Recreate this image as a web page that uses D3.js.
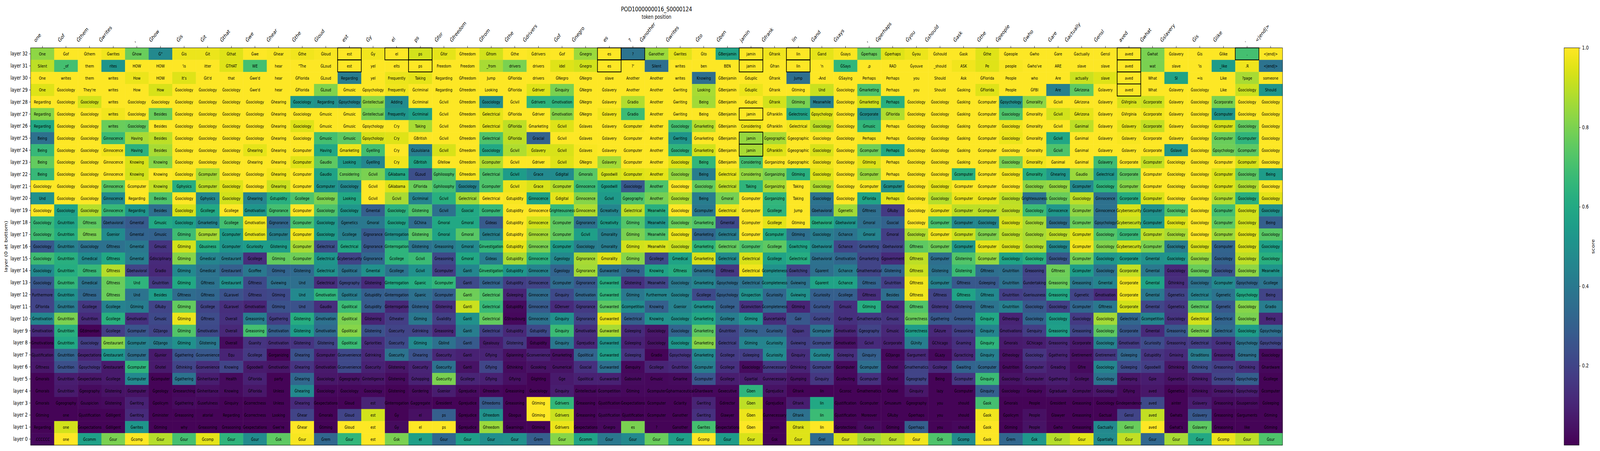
<!DOCTYPE html>
<html>
<head>
<meta charset="utf-8">
<script src="https://cdn.jsdelivr.net/npm/d3@7"></script>
<style>
html,body{margin:0;padding:0;background:#fff;overflow:hidden;}
svg{display:block;width:100vw;height:100vh;}
text{font-family:"DejaVu Sans",sans-serif;fill:#000;}
</style>
</head>
<body>
<svg id="chart" viewBox="0 0 5300 1155" preserveAspectRatio="none"></svg>
<script>
const chartTitle = "POD1000000016_S0000124";
const xAxisLabel = "token position";
const yAxisLabel = "layer (0 at bottom)";
const colorbarLabel = "score";
const colorbarTicks = [0.2, 0.4, 0.6, 0.8, 1.0];
const xTickLabels = ["one","Ġof","Ġthem","Ġwrites",",","Ġhow","Ġis","Ġit","Ġthat","Ġwe","Ġhear","Ġthe","Ġloud","est","Ġy","el","ps","Ġfor","Ġfreedom","Ġfrom","Ġthe","Ġdrivers","Ġof","Ġnegro","es","?","Ġanother","Ġwrites","Ġto","Ġben","jamin","Ġfrank","lin","Ġand","Ġsays",",","Ġperhaps","Ġyou","Ġshould","Ġask","Ġthe","Ġpeople","Ġwho","Ġare","Ġactually","Ġensl","aved","Ġwhat","Ġslavery","Ġis","Ġlike",".","<|end|>"];
const layers = [32,31,30,29,28,27,26,25,24,23,22,21,20,19,18,17,16,15,14,13,12,11,10,9,8,7,6,5,4,3,2,1,0];
// cells outlined in black: [layer, column]
const boxedCells = [[32,13],[31,13],[32,15],[32,16],[31,16],[32,24],[31,24],[32,25],[32,30],[31,30],[27,30],[25,30],[24,30],[32,32],[31,32],[32,46],[31,46],[30,46],[29,46],[32,51]];

const tokens32 = ["One","Ġof","Ġthem","Ġwrites","Ġhow","Ġ\"","Ġis","Ġit","Ġthat","Ġwe","Ġhear","Ġthe","Ġloud","est","Ġy","el","ps","Ġfor","Ġfreedom","Ġfrom","Ġthe","Ġdrivers","Ġof","Ġnegro","es","?","Ġanother","Ġwrites","Ġto","ĠBenjamin","jamin","Ġfrank","lin","Ġand","Ġsays","Ġperhaps","Ġperhaps","Ġyou","Ġshould","Ġask","Ġthe","Ġpeople","Ġwho","Ġare","Ġactually","Ġensl","aved","Ġwhat","Ġslavery","Ġis","Ġlike",".","<|end|>"];
const scores32 = [0.83,1,1,0.98,0.77,0.47,0.97,0.97,0.95,1,0.99,0.98,0.99,1,0.98,1,0.93,0.96,1,0.93,1,0.99,1,0.85,1,0.38,0.85,0.96,1,0.58,1,0.98,1,0.96,0.99,0.77,0.95,0.97,1,1,0.95,1,1,1,1,1,1,0.8,1,1,1,0.7,1];
const tokens31 = ["Silent","_of","them","rites","HOW","HOW","'is","itter","ĠTHAT","WE","hear","\"The","ĠLoud","est","yel","elts","ps","Freedom","Freedom","_from","drivers","drivers","idel","Ġnegro","es","?'","Silent","writes","ben","BEN","jamin","Ġfran","lin","'n","ĠSays",",p","RAD","Ġyouve","_should","ASK","Pe","people","Ġwho've","ARE","slave","slave","aved","wat","slave","'is","_like",".R","<|end|>"];
const scores31 = [0.9,0.7,1,0.52,1,1,1,1,0.95,0.7,1,1,1,1,1,1,1,1,1,0.87,0.8,1,0.95,0.93,1,1,0.36,1,1,1,1,1,1,1,0.66,1,1,1,1,0.98,0.95,0.99,1,1,1,1,1,0.8,1,1,0.55,0.98,0.38];
const tokens30 = ["One","writes","them","writes","How","HOW","It's","Ġit'd","that","Ġwe'd","hear","ĠFlorida","ĠLoud","Regarding","yel","Frequently","Taking","Regarding","ĠFreedom","Jump","ĠFlorida","drivers","ĠNegro","ĠNegro","slave","Another","Another","writes","Knowing","ĠBenjamin","Ġduplic","Ġfrank","Jump","-And","ĠSaying","Perhaps","Perhaps","you","Should","Ask","ĠFlorida","People","who","Are","actually","slave","aved","What","Sl","=is","Like","?page","someone"];
const scores30 = [1,1,1,1,0.97,1,0.95,1,1,1,1,1,1,0.42,1,0.97,0.96,1,1,1,1,1,1,1,1,1,1,1,0.36,1,1,1,0.36,1,1,1,1,1,1,1,1,1,1,1,0.92,0.95,1,1,0.58,1,1,0.87,1];
const tokens29 = ["One","Ġsociology","They're","writes","How","How","Ġsociology","Ġsociology","Ġsociology","Ġwe'd","hear","ĠFlorida","ĠLoud","Ġmusic","Ġpsychology","Frequently","Ġcriminal","Regarding","Ġfreedom","Looking","ĠFlorida","Ġdriver","Ġinquiry","ĠNegro","Ġslavery","Another","Another","Ġwriting","Looking","ĠBenjamin","Ġduplic","Ġfrank","Ġtiming","Und","Ġsociology","Ġmarketing","Perhaps","you","Should","Ġasking","ĠFlorida","People","ĠFBI","Are","ĠArizona","Ġslavery","aved","What","Ġslavery","Ġsociology","Like","Ġsociology","Should"];
const scores29 = [0.95,1,1,1,1,0.94,1,1,1,1,1,1,0.81,1,1,0.98,1,1,1,1,1,0.95,0.8,1,1,1,1,1,0.87,1,0.97,1,1,0.92,1,0.72,1,1,1,1,0.95,1,1,0.43,0.75,1,1,1,1,1,1,0.92,0.52];
const tokens28 = ["Regarding","Ġsociology","Ġsociology","writes","Ġsociology","Ġsociology","Ġsociology","Ġsociology","Ġsociology","Ġsociology","Ġhearing","Ġsociology","Regarding","Ġpsychology","Ġintellectual","Adding","Ġcriminal","Ġcivil","Ġfreedom","Ġsociology","Ġcivil","Ġdrivers","Ġmotivation","ĠNegro","Ġslavery","Ġradio","Another","Ġwriting","Being","ĠBenjamin","Ġduplic","Ġfrank","Ġtiming","Meanwhile","Ġsociology","Ġmarketing","Perhaps","Ġsociology","Ġsociology","Ġasking","Ġcomputer","Ġpsychology","Ġmorality","Ġcivil","ĠArizona","Ġslavery","ĠVirginia","Ġcorporate","Ġslavery","Ġsociology","Ġcorporate","Ġsociology","Ġsociology"];
const scores28 = [1,1,0.93,1,1,1,1,1,1,1,1,0.53,0.5,0.46,0.83,0.48,1,1,1,0.48,1,0.65,0.65,1,1,0.88,1,1,0.86,1,1,0.93,0.8,0.43,1,0.93,0.63,1,1,1,1,0.5,0.83,1,1,1,0.94,0.92,1,1,0.8,1,1];
const tokens27 = ["Regarding","Ġsociology","Ġsociology","writes","Ġsociology","Besides","Ġsociology","Ġsociology","Ġsociology","Ġsociology","Ġhearing","Ġsociology","Ġmusic","Ġmusic","Ġintellectual","Frequently","Ġcriminal","Ġcivil","Ġfreedom","Ġelectrical","ĠFlorida","Ġdriver","Ġmotivation","ĠNegro","Ġslavery","Ġradio","Another","Ġwriting","Being","ĠBenjamin","jamin","ĠFranklin","Ġelectronic","Ġpsychology","Ġsociology","Ġcorporate","ĠFlorida","Ġsociology","Ġsociology","Ġasking","Ġcomputer","Ġsociology","Ġmorality","Ġcivil","ĠArizona","Ġslavery","ĠVirginia","Ġcorporate","Ġslavery","Ġsociology","Ġcomputer","Ġsociology","Ġsociology"];
const scores27 = [0.82,1,1,0.98,1,0.77,1,1,1,1,1,1,1,1,0.79,0.52,0.57,1,1,0.96,1,1,0.82,1,0.98,0.68,1,1,1,1,1,1,0.58,0.95,1,0.5,0.88,1,1,1,1,0.72,1,0.93,0.96,1,0.99,0.98,1,1,0.52,1,1];
const tokens26 = ["Regarding","Ġsociology","Ġsociology","writes","Ġsociology","Besides","Ġsociology","Ġsociology","Ġsociology","Ġsociology","Ġhearing","Ġsociology","Ġmusic","Ġmusic","Ġpsychology","Cry","Taking","Ġcivil","Ġfreedom","Ġelectrical","ĠFlorida","Ġmarketing","Ġcivil","Ġslaves","Ġslavery","Ġcomputer","Another","Ġsociology","Ġmarketing","ĠBenjamin","Considering","ĠFranklin","Ġelectrical","Ġsociology","Ġsociology","Ġmusic","Perhaps","Ġsociology","Ġsociology","Ġasking","Ġcomputer","Ġsociology","Ġmorality","Ġcivil","Ġanimal","Ġslavery","Ġslavery","Ġcorporate","Ġslavery","Ġsociology","Ġcomputer","Ġsociology","Ġsociology"];
const scores26 = [0.6,1,1,0.77,0.76,1,1,1,1,1,1,0.95,1,1,1,1,0.87,1,1,0.96,0.9,1,0.95,1,1,0.99,1,0.7,0.89,1,0.98,1,0.98,0.9,1,0.66,1,1,1,1,1,0.98,1,1,0.9,1,0.96,0.91,1,1,0.94,0.76,1];
const tokens25 = ["Being","Ġsociology","Ġsociology","Ġinnocence","Having","Besides","Ġsociology","Ġsociology","Ġsociology","Ġsociology","Ġhearing","Ġsociology","Ġmusic","Ġmusic","Ġpsychology","Cry","ĠBritish","Ġcivil","Ġfreedom","Ġelectrical","ĠFlorida","Ġracial","Ġcivil","Ġslaves","Ġslavery","Ġcomputer","Another","Ġwriting","Ġmarketing","ĠBenjamin","jamin","Ġgeographic","Ġgeographic","Ġsociology","Ġsociology","Perhaps","Perhaps","Ġsociology","Ġsociology","Ġasking","Ġcomputer","Ġsociology","Ġmorality","Ġcivil","Ġanimal","Ġslavery","Ġslavery","Ġcorporate","Ġslavery","Ġsociology","Ġcomputer","Ġcomputer","Ġsociology"];
const scores25 = [0.37,1,1,0.68,0.87,0.9,1,1,1,1,1,1,0.7,0.75,0.94,0.95,1,1,1,0.72,0.9,0.31,1,1,1,1,1,0.52,1,1,0.84,0.87,1,1,1,0.99,1,1,1,1,1,0.97,1,0.59,1,1,0.99,1,1,1,0.77,0.65,1];
const tokens24 = ["Being","Ġsociology","Ġsociology","Ġinnocence","Having","Besides","Ġsociology","Ġsociology","Ġsociology","Ġhearing","Ġhearing","Ġcomputer","Having","Ġmarketing","Ġyelling","Cry","ĠLouisiana","Ġcivil","Ġfreedom","Ġsociology","Ġcivil","Ġslavery","Ġcivil","Ġslaves","Ġslavery","Ġcomputer","Another","Ġsociology","Ġmarketing","ĠBenjamin","jamin","ĠFranklin","Ġgeographic","Ġsociology","Ġsociology","Ġcomputer","Perhaps","Ġsociology","Ġsociology","Ġasking","Ġcomputer","Ġsociology","Ġmorality","Ġcivil","Ġanimal","Ġslavery","Ġslavery","Ġcorporate","Ġslave","Ġsociology","Ġpsychology","Ġcomputer","Ġsociology"];
const scores24 = [0.67,1,1,0.98,0.64,0.87,1,1,1,0.96,1,1,0.6,0.97,0.7,1,0.42,0.94,1,0.6,0.88,0.94,0.94,0.99,1,1,1,0.65,0.93,1,0.87,0.95,1,0.94,1,0.78,0.6,1,1,1,1,1,1,0.72,1,1,1,1,0.52,1,0.78,0.75,1];
const tokens23 = ["Being","Ġsociology","Ġsociology","Ġinnocence","Knowing","Knowing","Ġsociology","Ġsociology","Ġsociology","Ġhearing","Ġhearing","Ġcomputer","Ġaudio","Looking","Ġyelling","Cry","ĠBritish","Ġfellow","Ġfreedom","Ġcomputer","Ġcivil","Ġdriver","Ġcivil","ĠNegro","Ġslavery","Ġcomputer","Another","Ġsociology","Being","ĠBenjamin","Considering","Ġorganizing","Ġgeographic","Ġsociology","Ġsociology","Ġtiming","Perhaps","Ġsociology","Ġsociology","Ġasking","Ġcomputer","Ġsociology","Ġmorality","Ġanimal","Ġanimal","Ġslavery","Ġcorporate","Ġcomputer","Ġsociology","Ġsociology","Ġcomputer","Ġcomputer","Ġsociology"];
const scores23 = [0.76,1,1,1,0.94,0.82,1,1,1,1,1,0.95,0.75,0.55,0.46,0.98,0.58,1,1,0.88,1,1,0.95,0.99,0.86,1,1,0.95,0.66,1,0.7,1,1,0.98,1,0.95,1,1,1,1,1,0.8,0.98,1,1,0.69,1,0.91,1,1,1,0.94,1];
const tokens22 = ["Being","Ġsociology","Ġsociology","Ġinnocence","Knowing","Knowing","Ġsociology","Ġcomputer","Ġsociology","Ġsociology","Ġhearing","Ġcomputer","Ġaudio","Considering","Ġcivil","ĠAlabama","ĠLoud","Ġphilosophy","Ġfreedom","Ġelectrical","Ġcivil","Ġrace","Ġdigital","Ġmorals","Ġgoodwill","Ġcomputer","Another","Ġsociology","Being","Ġelectrical","Considering","Ġorganizing","Ġtiming","Ġsociology","Ġsociology","Ġcomputer","Perhaps","Ġsociology","Ġsociology","Ġcomputer","Ġcomputer","Ġsociology","Ġmorality","Ġhearing","Ġaudio","Ġelectrical","Ġcorporate","Ġcomputer","Ġsociology","Ġsociology","Ġcomputer","Ġsociology","Being"];
const scores22 = [0.67,1,1,1,0.93,1,0.99,0.87,1,1,0.98,1,0.58,0.77,0.8,0.6,0.24,0.72,0.99,0.72,0.55,0.47,0.48,0.74,0.93,0.95,0.96,0.84,0.42,0.96,0.84,0.8,0.63,0.95,1,0.85,1,1,1,0.63,1,0.98,0.62,0.53,0.85,0.53,0.75,1,1,1,0.94,0.75,0.55];
const tokens21 = ["Ġsociology","Ġsociology","Ġsociology","Ġinnocence","Ġcomputer","Knowing","Ġphysics","Ġcomputer","Ġsociology","Ġsociology","Ġhearing","Ġcomputer","Ġcomputer","Ġsociology","Ġcivil","ĠAlabama","ĠFlorida","Ġphilosophy","Ġsociology","Ġcomputer","Ġcivil","Ġrace","Ġcomputer","Ġinnocence","Ġgoodwill","Ġsociology","Another","Ġsociology","Ġsociology","Ġelectrical","Taking","Ġorganizing","Taking","Ġsociology","Ġsociology","Ġcomputer","Ġcomputer","Ġsociology","Ġsociology","Ġcomputer","Ġcomputer","Ġsociology","Ġsociology","Ġsociology","Ġcomputer","Ġsociology","Ġcomputer","Ġcomputer","Ġsociology","Ġsociology","Ġcomputer","Ġsociology","Ġsociology"];
const scores21 = [1,1,1,0.74,1,0.91,0.62,0.9,0.95,1,0.92,1,0.52,0.47,1,0.95,0.77,0.7,0.45,0.72,0.97,0.94,0.89,0.68,0.57,0.27,0.72,1,0.76,0.9,0.65,0.87,1,0.88,1,0.99,0.5,1,0.96,1,1,1,0.83,0.84,0.47,0.65,0.82,1,1,1,0.95,0.88,1];
const tokens20 = ["Und","Ġsociology","Ġsociology","Ġinnocence","Regarding","Besides","Ġsociology","Ġphysics","Ġsociology","Ġhearing","Ġstupidity","Ġcollege","Ġsociology","Looking","Ġcivil","Ġcivil","Ġcriminal","Ġcivil","Ġelectrical","Ġelectrical","Ġstupidity","Ġinnocence","Ġdigital","Ġinnocence","Ġcivil","Ġgeography","Another","Ġsociology","Being","Ġmoral","Ġcomputer","Ġorganizing","Taking","Ġsociology","Ġsociology","ĠFlorida","Perhaps","Ġsociology","Ġsociology","Ġcomputer","Ġcomputer","Ġsociology","Ġrighteousness","Ġsociology","Ġsociology","Ġinnocence","Ġcorporate","Ġcomputer","Ġsociology","Ġsociology","Ġcomputer","Ġsociology","Ġsociology"];
const scores20 = [0.5,1,1,0.48,1,0.72,1,0.47,0.93,0.45,0.63,0.72,0.8,0.6,1,0.87,0.45,0.63,0.86,1,0.99,0.58,0.96,0.82,0.54,0.72,0.79,0.88,0.42,0.79,1,0.66,1,0.38,1,0.58,0.96,0.99,0.89,0.97,0.97,0.9,0.38,0.77,0.9,0.37,0.62,0.94,1,1,0.88,0.63,0.96];
const tokens19 = ["Ġsociology","Ġsociology","Ġsociology","Ġinnocence","Regarding","Besides","Ġsociology","Ġcollege","Ġcollege","Ġmotivation","Ġignorance","Ġcomputer","Ġsociology","Ġsociology","Ġmental","Ġsociology","Ġlistening","Ġcivil","Ġsocial","Ġcomputer","Ġstupidity","Ġinnocence","Ġrighteousness","Ġinnocence","Ġcreativity","Ġelectrical","Meanwhile","Ġsociology","Ġcomputer","Ġelectrical","Ġcomputer","Ġcollege","Jump","Ġbehavioral","Ġgenetic","Ġfitness","ĠRuby","Ġsociology","Ġcomputer","Ġcomputer","Ġcomputer","Ġsociology","Ġsociology","Ġinnocence","Ġcomputer","Ġinnocence","Ġcybersecurity","Ġcomputer","Ġsociology","Ġsociology","Ġcomputer","Ġsociology","Ġsociology"];
const scores19 = [1,0.57,0.89,0.67,0.52,0.36,0.94,0.6,1,0.52,0.7,1,0.72,0.53,0.3,0.64,0.72,0.37,0.6,0.67,1,1,0.67,0.88,0.46,0.9,0.63,1,0.4,0.97,1,0.65,1,0.36,0.86,0.36,0.17,1,0.97,0.9,0.9,0.91,0.68,0.53,0.83,0.37,0.94,0.5,0.73,1,0.7,0.93,0.5];
const tokens18 = ["Ġsociology","Ġnutrition","Ġfitness","Ġbehavioral","Ġmental","Ġmusic","Ġsociology","Ġmarketing","Ġcollege","Ġmotivation","Ġignorance","Ġcomputer","Ġsociology","Ġgenetics","Ġmoral","Ġsociology","ĠChina","Ġmoral","Ġmoral","Ġideas","Ġstupidity","Ġinnocence","Ġcomputer","Ġignorance","Ġcreativity","Ġtiming","Meanwhile","Ġsociology","Ġmarketing","Ġmental","Ġcomputer","Ġcollege","Ġtiming","Ġbehavioral","Ġbehavioral","Ġmoral","Ġsocial","Ġsociology","Ġcomputer","Ġcomputer","Ġsociology","Ġsociology","Ġsociology","Ġsociology","Ġcomputer","Ġpsychology","Ġcybersecurity","Ġcomputer","Ġsociology","Ġsociology","Ġcomputer","Ġsociology","Being"];
const scores18 = [0.67,0.58,0.75,0.32,0.28,0.6,0.56,0.46,0.7,0.98,0.33,0.71,0.54,0.4,0.4,0.58,0.35,0.6,0.6,0.28,1,0.93,0.75,0.37,0.55,0.73,0.53,0.77,0.73,0.22,1,0.96,1,0.62,0.52,0.36,0.31,1,0.71,0.46,0.46,0.94,0.87,0.37,0.77,0.37,0.92,0.53,0.95,1,0.75,0.93,0.3];
const tokens17 = ["Ġsociology","Ġnutrition","Ġfitness","Ġsenior","Ġmental","Ġmusic","Ġtiming","Ġcomputer","Ġcomputer","Ġmotivation","Ġcomputer","Ġcomputer","Ġsociology","Ġcollege","Ġignorance","Ġinterrogation","Ġlistening","Ġmoral","Ġmoral","Ġelectrical","Ġstupidity","Ġinnocence","Ġcomputer","Ġcivil","Ġmorality","Ġtiming","Meanwhile","Ġsociology","Ġmarketing","Ġelectrical","Ġcomputer","Ġcomputer","Ġtiming","Ġsociology","Ġchance","Ġmoral","Ġmoral","Ġsociology","Ġcomputer","Ġcomputer","Ġcomputer","Ġsociology","Ġsociology","Ġsociology","Ġcomputer","Ġsociology","Ġcorporate","Ġcomputer","Ġsociology","Ġsociology","Ġcomputer","Ġsociology","Ġsociology"];
const scores17 = [0.69,0.62,0.8,0.48,0.32,0.31,0.69,0.87,0.55,0.96,0.44,0.98,0.55,0.43,0.27,0.5,0.74,0.58,0.74,0.44,1,0.87,0.76,0.56,0.43,0.8,0.72,0.97,0.33,0.42,1,0.6,0.36,0.42,0.38,0.45,0.18,0.88,0.98,0.92,0.81,0.9,0.87,0.9,0.95,0.73,0.67,0.9,0.87,1,0.85,0.95,0.74];
const tokens16 = ["Ġsociology","Ġnutrition","Ġsociology","Ġfitness","Ġmental","Ġmusic","Ġtiming","Ġbusiness","Ġcomputer","Ġcuriosity","Ġlistening","Ġcomputer","Ġelectrical","Ġelectrical","Ġignorance","Ġinterrogation","Ġlistening","Ġreasoning","Ġmoral","Ġinvestigation","Ġstupidity","Ġinnocence","Ġcomputer","Ġsociology","Ġmorality","Ġtiming","Meanwhile","Ġsociology","Ġmarketing","Ġelectrical","Ġcomputer","Ġcollege","Ġswitching","Ġbehavioral","Ġchance","Ġmarketing","Ġbehavioral","Ġfitness","Ġcomputer","Ġcomputer","Ġcomputer","Ġsociology","Ġsociology","Ġsociology","Ġcomputer","Ġsociology","Ġcybersecurity","Ġcomputer","Ġsociology","Ġsociology","Ġcomputer","Ġsociology","Ġsociology"];
const scores16 = [0.27,0.43,0.37,0.37,0.4,0.15,0.93,0.62,0.52,0.55,0.55,0.87,0.24,0.6,0.27,0.65,0.38,0.4,0.47,0.66,0.96,0.8,0.55,0.42,0.42,0.93,0.94,0.92,0.65,0.76,0.72,0.75,0.58,0.47,0.21,0.24,0.2,0.75,0.78,0.52,0.96,0.94,0.88,0.47,0.98,0.81,0.93,0.8,0.42,0.94,0.32,0.94,0.57];
const tokens15 = ["Ġsociology","Ġnutrition","Ġmedical","Ġfitness","Ġmental","Ġdisciplinary","Ġtiming","Ġmedical","Ġrestaurant","Ġcollege","Ġtiming","Ġcomputer","Ġelectrical","Ġcybersecurity","Ġignorance","Ġcollege","Ġcivil","Ġreasoning","Ġmoral","Ġideas","Ġstupidity","Ġinnocence","Ġgeology","Ġignorance","Ġmorality","Ġtiming","Ġcollege","Ġmedical","Ġmarketing","Ġelectrical","Ġelectrical","Ġcollege","Ġelectrical","Ġbehavioral","Ġmotivation","Ġmarketing","Ġgovernment","Ġfitness","Ġcomputer","Ġlistening","Ġcomputer","Ġsociology","Ġsociology","Ġsociology","Ġcomputer","Ġsociology","Ġcorporate","Ġmental","Ġsociology","Ġsociology","Ġsociology","Ġsociology","Ġsociology"];
const scores15 = [0.69,0.63,0.48,0.6,0.42,0.12,0.82,0.45,0.42,0.13,0.76,0.78,0.52,0.2,0.33,0.65,0.68,0.22,0.6,0.42,0.87,0.64,0.47,0.87,0.95,0.82,0.22,0.58,0.94,0.48,0.94,0.58,0.62,0.37,0.33,0.2,0.12,0.9,0.36,0.73,0.84,0.58,0.63,0.27,0.79,0.53,0.56,0.5,0.52,0.84,0.31,0.9,0.63];
const tokens14 = ["Ġsociology","Ġnutrition","Ġfitness","Ġfitness","Ġbehavioral","Ġradio","Ġtiming","Ġmedical","Ġrestaurant","Ġcoffee","Ġtiming","Ġlistening","Ġelectrical","Ġpolitical","Ġmental","Ġcollege","Ġcivil","Ġcomputer","Ġanti","Ġinvestigation","Ġstupidity","Ġinnocence","Ġgeology","Ġignorance","Ġunwanted","Ġtiming","Knowing","Ġfitness","Ġmarketing","Ġfitness","Ġelectrical","Ġcompleteness","Ġswitching","Ġparent","Ġchance","Ġmathematical","Ġlistening","Ġfitness","Ġlistening","Ġlistening","Ġfitness","Ġnutrition","Ġreasoning","Ġfitness","Ġcomputer","Ġsociology","Ġcorporate","Ġmental","Ġsociology","Ġsociology","Ġsociology","Ġsociology","Meanwhile"];
const scores14 = [0.47,0.62,0.67,0.89,0.2,0.11,0.47,0.38,0.3,0.4,0.32,0.34,0.5,0.38,0.5,0.38,0.5,0.18,0.46,0.66,0.53,0.45,0.32,0.86,0.38,0.32,0.58,0.62,0.38,0.16,0.98,0.5,0.2,0.36,0.42,0.2,0.32,0.92,0.38,0.68,0.36,0.37,0.2,0.78,0.55,0.38,0.91,0.4,0.12,0.77,0.26,0.83,0.52];
const tokens13 = ["Ġsociology","Ġnutrition","Ġmedical","Ġfitness","Und","Ġnutrition","Ġtiming","Ġfitness","Ġrestaurant","Ġfitness","Ġviewing","Und","Ġelectrical","Ġgeography","Ġlistening","Ġinterrogation","Ġpanic","Ġcomputer","Ġanti","Ġelectrical","Ġstupidity","Ġinnocence","Ġcomputer","Ġignorance","Ġunwanted","Ġlistening","Meanwhile","Ġsociology","Ġmarketing","Ġpsychology","Ġelectrical","Ġcompleteness","Ġviewing","Ġparent","Ġchance","Ġfitness","Ġnutrition","Ġfitness","Ġcomputer","Ġfitness","Ġsleeping","Ġnutrition","Ġundertaking","Ġreasoning","Ġreasoning","Ġmental","Ġcorporate","Ġmental","Ġthinking","Ġsociology","Ġcomputer","Ġpsychology","Ġcollege"];
const scores13 = [0.27,0.66,0.38,0.77,0.65,0.17,0.6,0.38,0.5,0.22,0.37,0.36,0.13,0.23,0.12,0.6,0.62,0.66,0.22,0.32,0.18,0.2,0.35,0.27,0.62,0.14,0.2,0.4,0.45,0.35,0.38,0.5,0.38,0.58,0.58,0.32,0.18,0.98,0.44,0.27,0.27,0.37,0.2,0.77,0.4,0.45,0.98,0.58,0.13,0.37,0.47,0.33,0.38];
const tokens12 = ["Furthermore","Ġnutrition","Ġfitness","Ġfitness","Und","Besides","Ġfitness","Ġfitness","ĠLaravel","Ġfitness","Ġtiming","Und","Ġmotivation","Ġpolitical","Ġstupidity","Ġinterrogation","Ġpanic","Ġcomputer","Ġanti","Ġelectrical","Ġsleeping","Ġinnocence","Ġinquiry","Ġmotivation","Ġunwanted","Ġtiming","Furthermore","Ġsociology","Ġcollege","Ġpsychology","Ġinspection","Ġcuriosity","Ġviewing","Ġcuriosity","Ġcollege","Ġfitness","Besides","Ġfitness","Ġfitness","Ġfitness","Ġfitness","Ġnutrition","Ġseriousness","Ġreasoning","Ġgenetic","Ġmotivation","Ġcorporate","Ġmental","Ġgenetics","Ġelectrical","Ġgenetic","Ġpsychology","Being"];
const scores12 = [0.2,0.5,0.33,0.77,0.38,0.55,0.35,0.33,0.25,0.2,0.22,0.47,0.65,0.42,0.3,0.3,0.37,0.3,0.78,0.72,0.1,0.35,0.22,0.33,0.65,0.4,0.46,0.45,0.22,0.3,0.5,0.33,0.5,0.3,0.3,0.13,0.36,0.98,0.2,0.58,0.47,0.18,0.2,0.6,0.2,0.12,0.98,0.4,0.2,0.44,0.38,0.6,0.2];
const tokens11 = ["ĠFlorida","Ġnutrition","Ġcollege","Ġcollege","Ġtiming","ĠRuby","Ġtiming","Ġcollege","ĠLaravel","Ġmotivation","Ġtiming","Und","Ġaudio","Ġpolitical","Ġstupidity","Ġinterrogation","Ġlistening","Ġlistening","Ġanti","Ġelectrical","Ġstupidity","Ġinnocence","ĠDenver","Ġignorance","Ġunwanted","Ġcompetition","Knowing","Ġsenior","Ġmarketing","Ġcollege","Ġconviction","Ġcompleteness","Ġtiming","Ġcuriosity","Ġmusic","Ġtiming","Ġmusic","Ġfitness","Ġlistening","Ġlistening","Ġfitness","Ġnutrition","Ġsociology","Ġsociology","Ġcomputer","Ġfitness","Ġcorporate","Ġmental","Ġgenetics","Ġelectrical","Ġgenetic","Ġsociology","Ġradio"];
const scores11 = [0.2,0.41,0.16,0.44,0.42,0.2,0.76,0.2,0.13,0.1,0.25,0.25,0.13,0.68,0.28,0.11,0.32,0.13,0.92,0.67,0.03,0.28,0.12,0.17,0.75,0.48,0.3,0.44,0.5,0.3,0.14,0.33,0.1,0.26,0.14,0.62,0.12,0.73,0.17,0.27,0.38,0.43,0.27,0.19,0.33,0.4,0.93,0.21,0.16,0.75,0.27,0.82,0.42];
const tokens10 = ["Ġmotivation","Ġnutrition","Ġnutrition","Ġcollege","Ġmotivation","Ġmusic","Ġtiming","Ġfitness","Overall","Ġreasoning","Ġgathering","Ġlistening","Ġmotivation","Ġpolitical","Ġlistening","Ġtheater","Ġtiming","Ġvalidity","Ġanti","Ġelectrical","ĠStrasbourg","Ġinnocence","Ġinquiry","Ġignorance","Ġunwanted","Ġelectrical","Knowing","Ġsociology","Ġmarketing","Ġcollege","Ġtiming","Ġuncertainty","Ġair","Ġcuriosity","Ġcollege","Ġmathematics","Ġmusic","Ġcorrectness","Ġgathering","Ġreasoning","Ġinquiry","Ġtheology","Ġsociology","Ġsociology","Ġsociology","Ġsociology","Ġelectrical","Ġcompetition","Ġsociology","Ġelectrical","Ġelectrical","Ġsociology","Being"];
const scores10 = [0.46,0.8,0.12,0.63,0.14,0.22,0.97,0.23,0.14,0.42,0.18,0.62,0.37,0.8,0.1,0.18,0.4,0.19,0.5,0.76,0.02,0.38,0.5,0.2,0.96,0.3,0.5,0.5,0.6,0.42,0.52,0.13,0.27,0.21,0.14,0.17,0.15,0.77,0.27,0.27,0.6,0.1,0.32,0.55,0.17,0.86,0.33,0.45,0.15,0.93,0.32,0.8,0.11];
const tokens9 = ["Ġmotivation","Ġnutrition","ĠEdmonton","Ġcollege","Ġcomputer","ĠDjango","Ġtiming","Ġmotivation","Overall","Ġreasoning","Ġmotivation","Ġlistening","Ġmotivation","Ġpolitical","Ġlistening","Ġsecurity","Ġdrinking","Ġreasoning","Ġanti","Ġelectrical","Ġstupidity","Ġstupidity","Ġinquiry","Ġmotivation","Ġunwanted","Ġsleeping","Ġsociology","Ġsociology","Ġmarketing","Ġnutrition","Ġtiming","Ġcuriosity","ĠJapan","Ġcomputer","Ġmotivation","Ġgeography","Ġmusic","Ġcorrectness","ĠAzure","Ġreasoning","Ġinquiry","Ġmotivations","Ġenquiry","Ġreasoning","Ġreasoning","Ġsociology","Ġcorporate","Ġmental","Ġreasoning","Ġelectrical","Ġelectrical","Ġsociology","Ġpsychology"];
const scores9 = [0.12,0.63,0.01,0.18,0.26,0.2,0.73,0.22,0.11,0.7,0.3,0.55,0.34,0.82,0.25,0.2,0.2,0.11,0.42,0.19,0.11,0.22,0.68,0.13,0.87,0.12,0.06,0.32,0.75,0.2,0.3,0.3,0.16,0.38,0.1,0.2,0.11,0.55,0.11,0.19,0.45,0.11,0.18,0.56,0.21,0.75,0.27,0.12,0.27,0.8,0.34,0.55,0.36];
const tokens8 = ["Ġmotivations","Ġnutrition","Ġsociology","Ġrestaurant","Ġcomputer","ĠDjango","Ġtiming","Ġlistening","Overall","Ġsanity","Ġmotivation","Ġlistening","Ġlistening","Ġpolitical","Ġpriorities","Ġsecurity","Ġtiming","Ġblind","Ġanti","Ġjealousy","Ġlistening","Ġstupidity","Ġinquiry","Ġprejudice","Ġunwanted","Ġsleeping","Ġsociology","Ġsociology","Ġmarketing","Ġelectrical","Ġtiming","Ġcuriosity","Ġviewing","Ġcomputer","Ġmotivation","Ġcivil","Ġcorporate","ĠUnity","ĠChicago","Ġnaming","Ġinquiry","Ġmorals","ĠChicago","Ġreasoning","Ġcorporate","Ġsociology","Ġmotivation","Ġcuriosity","Ġreasoning","Ġelectrical","Ġcooking","Ġpsychology","Ġpsychology"];
const scores8 = [0.02,0.6,0.18,0.82,0.44,0.42,0.5,0.4,0.03,0.15,0.13,0.15,0.2,0.68,0.13,0.22,0.47,0.37,0.28,0.08,0.16,0.02,0.4,0.11,0.52,0.09,0.05,0.52,0.82,0.19,0.45,0.45,0.18,0.23,0.04,0.12,0.09,0.42,0.08,0.14,0.65,0.07,0.08,0.11,0.07,0.44,0.17,0.23,0.16,0.18,0.14,0.38,0.21];
const tokens7 = ["Ġjustification","Ġnutrition","Ġexpectations","Ġrestaurant","Ġcomputer","Ġjunior","Ġgathering","Ġconvenience","Equ","Ġcollege","Ġorganizing","Ġhearing","Ġcomputer","Ġconvenience","Ġdrinking","Ġsecurity","Ġhearing","Ġsecurity","Ġanti","Ġflying","Ġplanning","Ġconvenience","Ġmarketing","Ġpolitical","Ġunwanted","Ġsleeping","Ġradio","Ġpsychology","Ġmarketing","Ġcollege","Ġsleeping","Ġcuriosity","Ġinquiry","Ġcuriosity","Ġsleeping","Ġinquiry","ĠDjango","Ġargument","ĠLazy","Ġpracticing","Ġinquiry","Ġtheology","Ġsociology","Ġgathering","Ġretirement","Ġretirement","Ġsleeping","Ġstupidity","Ġmixing","Ġtraditions","Ġreasoning","Ġdreaming","Ġsociology"];
const scores7 = [0.07,0.32,0.1,0.52,0.36,0.07,0.26,0.27,0.1,0.17,0.01,0.25,0.09,0.22,0.11,0.38,0.25,0.11,0.09,0.1,0.04,0.09,0.04,0.32,0.56,0.15,0.01,0.15,0.47,0.17,0.18,0.47,0.13,0.46,0.13,0.3,0.02,0.11,0.02,0.11,0.43,0.04,0.15,0.1,0.04,0.16,0.33,0.15,0.12,0.42,0.09,0.37,0.02];
const tokens6 = ["Ġfitness","Ġnutrition","Ġpsychology","Ġrestaurant","Ġcomputer","Ġhotel","Ġthinking","Ġconvenience","Knowing","Ġgoodwill","Ġmotivation","Ġhearing","Ġmotivation","Ġconvenience","Ġsecurity","Ġlistening","Ġsecurity","Ġsecurity","Ġanti","Ġflying","Ġthinking","Ġcooking","Ġnumerical","Ġsocial","Ġunwanted","Ġenquiry","Ġcollege","Ġnutrition","Ġcomputer","Ġcollege","Ġsociology","Ġunnecessary","Ġthinking","Ġcomputer","Ġcomputer","Ġcomputer","Ġhotel","Ġmathematics","Ġcollege","Ġwaiting","Ġcomputer","Ġnutrition","Ġcomputer","Ġreading","Ġfire","Ġsociology","Ġsleeping","Ġgoodwill","Ġthinking","Ġthinking","Ġreasoning","Ġthinking","Ġhardware"];
const scores6 = [0.06,0.24,0.15,0.07,0.65,0.07,0.2,0.13,0.2,0.07,0.06,0.15,0.07,0.22,0.09,0.06,0.1,0.37,0.05,0.21,0.03,0.05,0.05,0.14,0.36,0.02,0.1,0.12,0.42,0.14,0.03,0.17,0.1,0.2,0.03,0.36,0.04,0.2,0.12,0.32,0.33,0.03,0.11,0.08,0.03,0.45,0.22,0.18,0.06,0.23,0.18,0.14,0.02];
const tokens5 = ["Ġmorals","Ġnutrition","Ġexpectations","Ġcollege","Ġcomputer","Ġcomputer","Ġgathering","Ġinheritance","Health","ĠFlorida","party","Ġhearing","Ġsociology","Ġgeography","Ġintelligence","Ġlistening","Ġshopping","Ġsecurity","Ġcollege","Ġflying","Ġflying","Ġlighting","Ġge","Ġpolitical","Ġunwanted","Ġabsolute","Ġmusic","Ġmarine","Ġcomputer","Ġcollege","Ġpartial","Ġunnecessary","Ġjumping","Ġinquiry","Ġcollecting","Ġcomputer","Ġhotel","Ġgeography","Being","Ġcomputer","Ġinquiry","Ġsociology","Ġcomputer","Ġgathering","Ġcollege","Ġsociology","Ġsleeping","Ġpie","Ġgenetics","Ġthinking","Ġreasoning","Ġpsychology","Ġcollege"];
const scores5 = [0.01,0.08,0.06,0.07,0.47,0.01,0.38,0.08,0.03,0.09,0.01,0.33,0.06,0.05,0.06,0.03,0.09,0.8,0.1,0.09,0.04,0.01,0.07,0.09,0.09,0.03,0.02,0.03,0.26,0.08,0.08,0.08,0.05,0.16,0.02,0.14,0.02,0.2,0.01,0.16,0.68,0.05,0.07,0.08,0.05,0.38,0.06,0.08,0.05,0.08,0.2,0.3,0.01];
const tokens4 = ["Ġmorals","Ġnutrition","Ġgeography","Ġlistening","Ġcomputer","Ġgeology","Ġresearching","Ġinheritance","Knowing","ĠFlorida","Unless","Ġhearing","Ġsociology","Ġsociology","Ġsociology","Ġlistening","Ġordering","Ġsenior","Ġprejudice","Ġfreedom","Ġreasoning","Ġsociology","Ġinquiry","Ġintellectual","Ġcompetition","Ġtiming","Ġcomputer","Ġpharmaceutical","Ġhardware","Ġexecutive","Ġben","Ġprejudice","Ġfrank","lin","Ġconsc","Ġmathematics","Ġhotel","Ġinquiry","lazy","Ġcomputer","Ġinquiry","Ġsociology","Ġenquiry","Ġgraduate","Ġcomputer","Ġsociology","Ġflying","aved","Ġgenetics","Ġthinking","Ġreasoning","Ġpsychology","Ġcomputer"];
const scores4 = [0.01,0.07,0.03,0.05,0.05,0.01,0.02,0.04,0.03,0.06,0.01,0.47,0.02,0.02,0.02,0.01,0.03,0.08,0.03,0.02,0.01,0.01,0.08,0.02,0.03,0.02,0.02,0.02,0.02,0.02,0.65,0.05,0.01,0.01,0.01,0.01,0.01,0.06,0.01,0.01,0.3,0.02,0.02,0.05,0.04,0.06,0.03,0.06,0.01,0.04,0.06,0.08,0.01];
const tokens3 = ["Ġmorals","Ġgeography","Ġsuspicion","Ġlistening","Ġwriting","Ġpolicym","Ġgathering","Ġusefulness","Ġinquiry","Ġcorrectness","Unless","Ġhearing","Ġexpectations","Ġloud","est","Ġinterrogation","Ġaggregate","Ġresident","Ġprejudice","Ġfreedoms","Ġreasoning","Ġtiming","Ġdrivers","Ġreasoning","Ġjustification","Ġexpectations","Ġcomputer","Ġclarity","Ġwriting","Ġdirector","Ġben","Ġprejudice","Ġfrank","lin","Ġjustification","Ġcomputer","Ġmuseum","Ġgeography","you","should","Ġask","Ġmorals","People","Ġresident","Ġreasoning","Ġsociology","Ġindependence","aved","ainter","Ġslavery","Ġreasoning","Ġsuspension","Ġsleeping"];
const scores3 = [0.01,0.01,0.02,0.03,0.09,0.01,0.03,0.02,0.01,0.01,0.01,0.12,0.01,0.01,0.1,0.01,0.02,0.01,0.01,0.28,0.01,1,0.66,0.01,0.01,0.01,0.01,0.01,0.1,0.01,0.9,0.01,0.08,0.6,0.01,0.01,0.01,0.01,0.01,0.01,0.7,0.01,0.01,0.01,0.01,0.01,0.02,0.22,0.01,0.08,0.03,0.03,0.01];
const tokens2 = ["Ġtiming","one","Ġjustification","Ġdiligent","Ġwriting","Ġminister","Ġreasoning","atorial","Regarding","Ġcorrectness","Looking","Ġhear","Ġmorals","Ġloud","est","Ġy","el","ps","Ġprejudice","Ġfreedom","Ġbogus","Ġtiming","Ġdrivers","Ġreasoning","Ġjustification","Ġjustification","Ġcomputer","Ġanother","Ġwriting","Ġlawyer","Ġben","Ġunnecessary","Ġfrank","lin","Ġjustification","Moreover","ĠRuby","Ġperhaps","you","should","Ġask","Ġpolicym","People","Ġlawyer","Ġreasoning","Ġactual","Ġensl","aved","Ġwhats","Ġslavery","Ġreasoning","Ġarguments","Ġtiming"];
const scores2 = [0.01,0.01,0.01,0.01,0.12,0.01,0.01,0.01,0.01,0.01,0.01,0.2,0.01,0.2,0.93,0.01,0.04,0.3,0.01,0.5,0.01,1,0.92,0.01,0.02,0.01,0.01,0.01,0.14,0.01,0.97,0.01,0.37,0.68,0.01,0.01,0.01,0.01,0.01,0.01,0.98,0.01,0.04,0.01,0.01,0.01,0.2,0.91,0.01,0.27,0.01,0.01,0.01];
const tokens1 = ["Regarding","one","Ġexpectations","Ġdiligent","Ġwrites","Ġtiming","why","Ġreasoning","Ġreasoning","Ġexpectations","Ġwe're","Ġhear","Ġtiming","Ġloud","est","Ġy","el","ps","Ġprejudice","Ġfreedom","Ġwarnings","Ġtiming","Ġdrivers","Ġexpectations","Ġnegro","es","?","Ġanother","Ġwrites","Ġexpectations","Ġben","jamin","Ġfrank","lin","Ġprotections","Ġsays","Ġtiming","Ġperhaps","you","should","Ġask","Ġtiming","People","Ġwho","Ġreasoning","Ġactually","Ġensl","aved","Ġwhat's","Ġslavery","Ġreasoning","like","Ġtiming"];
const scores1 = [0.01,0.93,0.01,0.01,0.52,0.01,0.01,0.01,0.01,0.01,0.01,1,0.01,1,1,0.03,1,1,0.01,0.85,0.01,0.01,0.97,0.01,0.02,0.8,0.01,0.01,0.7,0.01,1,0.01,0.95,1,0.01,0.03,0.01,0.3,0.01,0.02,1,0.01,0.05,0.01,0.01,0.47,0.77,1,0.01,0.75,0.01,0.01,0.01];
const tokens0 = [".CCCCCC","one","Ġcomm","Ġsur","Ġcomp","Ġsur","Ġsur","Ġcomp","Ġsur","Ġsur","Ġsk","Ġsur","Ġrem","Ġsur","est","Ġsk","el","Ġsur","Ġsur","Ġsur","Ġsur","Ġrem","Ġsur","Ġcomm","Ġsur","Ġsur","Ġsur","Ġsur","Ġcomp","Ġsur","Ġsur","Ġsk","Ġsur","Ġrel","Ġsur","Ġcomp","Ġsur","Ġsur","Ġsk","Ġcomp","Ġask","Ġrem","Ġsk","Ġsur","Ġsur","Ġpartially","Ġsur","Ġsur","Ġsur","Ġsur","Ġcomp","Ġsur","Ġsur"];
const scores0 = [0.02,1,0.57,0.8,1,0.89,0.7,0.96,0.65,0.48,0.75,0.99,0.33,0.66,1,0.8,0.56,0.33,0.56,0.49,0.5,0.3,0.82,0.58,0.4,0.47,0.77,0.56,1,0.55,0.94,0.01,0.95,0.34,0.94,0.86,0.9,0.98,0.72,0.48,1,0.33,0.53,0.89,0.96,0.48,0.91,0.33,0.87,0.6,0.97,0.9,0.72];

const layerTokens = {32:tokens32,31:tokens31,30:tokens30,29:tokens29,28:tokens28,27:tokens27,26:tokens26,25:tokens25,24:tokens24,23:tokens23,22:tokens22,21:tokens21,20:tokens20,19:tokens19,18:tokens18,17:tokens17,16:tokens16,15:tokens15,14:tokens14,13:tokens13,12:tokens12,11:tokens11,10:tokens10,9:tokens9,8:tokens8,7:tokens7,6:tokens6,5:tokens5,4:tokens4,3:tokens3,2:tokens2,1:tokens1,0:tokens0};
const layerScores = {32:scores32,31:scores31,30:scores30,29:scores29,28:scores28,27:scores27,26:scores26,25:scores25,24:scores24,23:scores23,22:scores22,21:scores21,20:scores20,19:scores19,18:scores18,17:scores17,16:scores16,15:scores15,14:scores14,13:scores13,12:scores12,11:scores11,10:scores10,9:scores9,8:scores8,7:scores7,6:scores6,5:scores5,4:scores4,3:scores3,2:scores2,1:scores1,0:scores0};

const plot = {left:101.2, right:4248.3, top:122.5, bottom:1140};
const cbar = {left:5181, right:5231};
const svg = d3.select("#chart");

const columns = d3.range(xTickLabels.length);
const x = d3.scaleBand().domain(columns).range([plot.left, plot.right]);
const y = d3.scaleBand().domain(layers).range([plot.top, plot.bottom]);
const color = d3.scaleSequential(d3.interpolateViridis).domain([0, 1]);

const cells = [];
layers.forEach(l => layerScores[l].forEach((v, c) => cells.push({layer:l, col:c, value:v, token:layerTokens[l][c]})));

const cellG = svg.append("g");
cellG.selectAll("rect").data(cells).join("rect")
  .attr("x", d => x(d.col)).attr("y", d => y(d.layer))
  .attr("width", x.bandwidth()+0.5).attr("height", y.bandwidth()+0.5)
  .attr("fill", d => color(d.value));
const labelG = svg.append("g").attr("font-size", 11).attr("text-anchor", "middle");
labelG.selectAll("text").data(cells).join("text")
  .attr("x", d => x(d.col) + x.bandwidth()/2)
  .attr("y", d => y(d.layer) + y.bandwidth()/2)
  .attr("dy", "0.36em")
  .text(d => d.token);

svg.append("g").selectAll("rect").data(boxedCells).join("rect")
  .attr("x", d => x(d[1])).attr("y", d => y(d[0]))
  .attr("width", x.bandwidth()).attr("height", y.bandwidth())
  .attr("fill", "none").attr("stroke", "#000").attr("stroke-width", 2);

svg.append("rect").attr("x", plot.left).attr("y", plot.top)
  .attr("width", plot.right-plot.left).attr("height", plot.bottom-plot.top)
  .attr("fill", "none").attr("stroke", "#000").attr("stroke-width", 1);

// top axis
const topAxis = svg.append("g").attr("transform", `translate(0,${plot.top})`)
  .call(d3.axisTop(x).tickSize(4.8).tickFormat(i => xTickLabels[i]));
topAxis.select(".domain").remove();
topAxis.selectAll("text").attr("font-size", 13.9).attr("font-family", "DejaVu Sans")
  .attr("text-anchor", "start").attr("dy", null)
  .each(function() {
    const L = this.getComputedTextLength();
    const x0 = -3.5 - L*Math.SQRT1_2, y0 = -13.5;
    d3.select(this).attr("x", null).attr("y", null)
      .attr("transform", `translate(${x0},${y0}) rotate(-45)`);
  });

// left axis
const leftAxis = svg.append("g").attr("transform", `translate(${plot.left},0)`)
  .call(d3.axisLeft(y).tickSize(4.8).tickPadding(4.8).tickFormat(l => `layer ${l}`));
leftAxis.select(".domain").remove();
leftAxis.selectAll("text").attr("font-size", 13.9).attr("font-family", "DejaVu Sans");

// titles
svg.append("text").attr("x", (plot.left+plot.right)/2).attr("y", 29)
  .attr("text-anchor","middle").attr("font-size",16.7).text(chartTitle);
svg.append("text").attr("x", (plot.left+plot.right)/2).attr("y", 48)
  .attr("text-anchor","middle").attr("font-size",13.9).text(xAxisLabel);
svg.append("text").attr("transform", `translate(25,${(plot.top+plot.bottom)/2}) rotate(-90)`)
  .attr("text-anchor","middle").attr("font-size",13.9).text(yAxisLabel);

// colorbar
const cb = d3.scaleLinear().domain([0,1]).range([plot.bottom, plot.top]);
const defs = svg.append("defs");
const grad = defs.append("linearGradient").attr("id","vir").attr("x1",0).attr("x2",0).attr("y1",1).attr("y2",0);
grad.selectAll("stop").data(d3.range(0,1.001,1/64)).join("stop")
  .attr("offset", d => d).attr("stop-color", d => color(d));
svg.append("rect").attr("x",cbar.left).attr("y",plot.top)
  .attr("width",cbar.right-cbar.left).attr("height",plot.bottom-plot.top)
  .attr("fill","url(#vir)").attr("stroke","#000").attr("stroke-width",1);
const cbAxis = svg.append("g").attr("transform",`translate(${cbar.right},0)`)
  .call(d3.axisRight(cb).tickValues(colorbarTicks).tickSize(4.8).tickPadding(4.8).tickFormat(d3.format(".1f")));
cbAxis.select(".domain").remove();
cbAxis.selectAll("text").attr("font-size",13.9).attr("font-family","DejaVu Sans");
svg.append("text").attr("transform",`translate(5277,${(plot.top+plot.bottom)/2}) rotate(-90)`)
  .attr("text-anchor","middle").attr("dy","0.35em").attr("font-size",13.9).text(colorbarLabel);
</script>
</body>
</html>
